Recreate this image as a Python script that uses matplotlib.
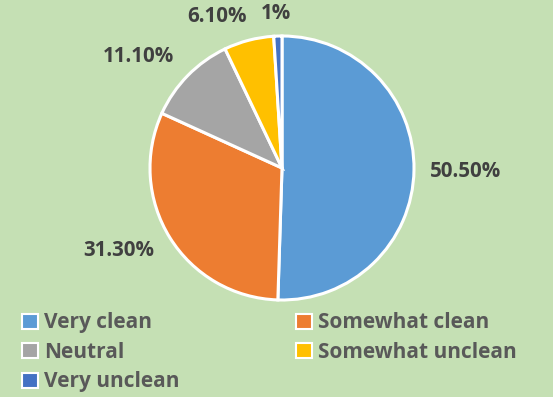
import matplotlib
matplotlib.use("Agg")
import matplotlib.pyplot as plt
from matplotlib.patches import Patch
import numpy as np

categories = ["Very clean", "Somewhat clean", "Neutral", "Somewhat unclean", "Very unclean"]
shares = [50.5, 31.3, 11.1, 6.1, 1.0]
value_labels = ["50.50%", "31.30%", "11.10%", "6.10%", "1%"]
colors = ["#5B9BD5", "#ED7D31", "#A5A5A5", "#FFC000", "#4472C4"]
# label placement: radial distance and angular nudge (degrees) per slice
label_dist = [1.394, 1.386, 1.377, 1.25, 1.17]
label_nudge = [-0.3, -4.9, 6.8, 8.7, 0.4]

bg = "#C5E0B4"
W, H = 553, 397
fig = plt.figure(figsize=(W / 100, H / 100), dpi=100, facecolor=bg)

cx, cy, R = 282, 168, 132
ax = fig.add_axes([(cx - R) / W, (H - cy - R) / H, 2 * R / W, 2 * R / H])
ax.set_facecolor(bg)
ax.axis("off")

wedges, _ = ax.pie(shares, colors=colors, startangle=90, counterclock=False,
                   radius=1.0, wedgeprops=dict(edgecolor="white", linewidth=2.2))
ax.set_xlim(-1, 1)
ax.set_ylim(-1, 1)

font = "Open Sans"
for w, txt, d, nd in zip(wedges, value_labels, label_dist, label_nudge):
    ang = np.deg2rad((w.theta1 + w.theta2) / 2 + nd)
    ax.text(d * np.cos(ang), d * np.sin(ang), txt, ha="center", va="center",
            fontsize=14.8, fontweight="bold", color="#404040", family=font)

handles = [Patch(facecolor=c, edgecolor="white", linewidth=1.5) for c in colors]
order = [0, 2, 4, 1, 3]
leg = fig.legend([handles[i] for i in order], [categories[i] for i in order],
                 ncol=2, loc="upper left", bbox_to_anchor=(12 / W, 1 - 302 / H),
                 frameon=False, prop=dict(family=font, weight="bold", size=15),
                 handlelength=0.75, handleheight=0.75, handletextpad=0.3,
                 labelspacing=0.41, columnspacing=5.6, borderpad=0)
for t in leg.get_texts():
    t.set_color("#595959")

fig.savefig("out.png", dpi=100, facecolor=bg)
